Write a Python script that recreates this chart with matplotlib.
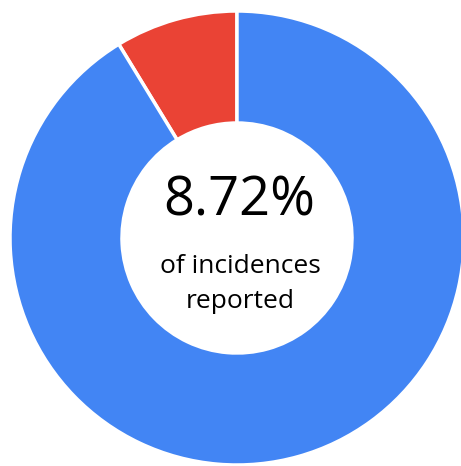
import matplotlib
matplotlib.use("Agg")
import matplotlib.pyplot as plt

labels = ["Reported", "Not reported"]
shares = [8.72, 91.28]
colors = ["#EA4335", "#4285F4"]
center_value = "8.72%"
caption_lines = ["of incidences", "reported"]

W, H = 461, 466
fig = plt.figure(figsize=(W / 100, H / 100), dpi=100)
ax = fig.add_axes([0, 0, 1, 1])

cx, cy = 237, H - 238
ax.pie(shares, colors=colors, startangle=90, counterclock=True,
       center=(cx, cy), radius=227, frame=True,
       wedgeprops=dict(width=112, edgecolor="white", linewidth=2.5))
ax.set_xlim(0, W)
ax.set_ylim(0, H)
ax.set_aspect("equal")
ax.axis("off")

# big number, then the two caption lines (baselines)
ax.text(cx + 2, H - 216, center_value, ha="center", va="baseline",
        fontsize=39, family="Open Sans", color="black")
for line, base in zip(caption_lines, [273, 308]):
    ax.text(cx + 3, H - base, line, ha="center", va="baseline",
            fontsize=19, family="Open Sans", color="black")

fig.savefig("out.png", dpi=100)
